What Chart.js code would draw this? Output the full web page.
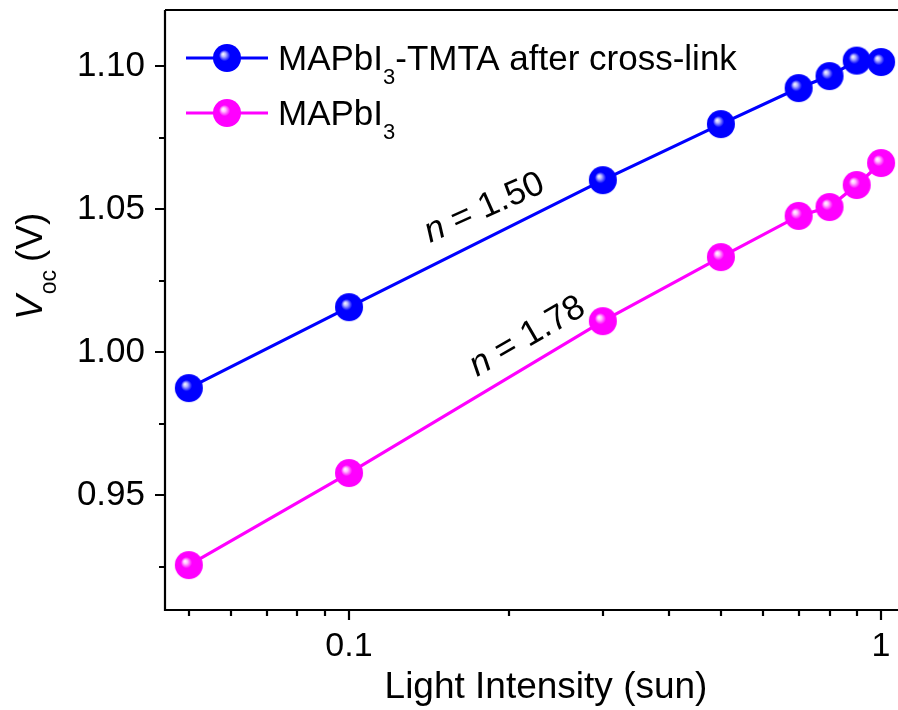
<!DOCTYPE html>
<html>
<head>
<meta charset="utf-8">
<script src="https://cdn.jsdelivr.net/npm/chart.js@4/dist/chart.umd.min.js"></script>
<style>
  html, body { margin: 0; padding: 0; background: #fff; }
  #wrap { width: 898px; height: 710px; }
</style>
</head>
<body>
<div id="wrap"><canvas id="chart" width="898" height="710"></canvas></div>
<script>
// light intensity (sun)
const intensities = [0.05, 0.1, 0.3, 0.5, 0.7, 0.8, 0.9, 1.0];
// Voc (V)
const vocTmta = [0.9874, 1.0157, 1.0601, 1.0797, 1.0923, 1.0965, 1.1019, 1.1014];
const vocRef = [0.9255, 0.9577, 1.0108, 1.0332, 1.0476, 1.0507, 1.0584, 1.0661];

const xTicks = [0.05, 0.06, 0.07, 0.08, 0.09, 0.1, 0.2, 0.3, 0.4, 0.5, 0.6, 0.7, 0.8, 0.9, 1];
const xLabels = [0.1, 1];
const yTicks = [0.925, 0.95, 0.975, 1.0, 1.025, 1.05, 1.075, 1.10];
const yLabels = [0.95, 1.0, 1.05, 1.10];

const FONT = "'Liberation Sans', Arial, sans-serif";
const BLUE = '#0000ff';
const PINK = '#ff00ff';

// shaded ball used as marker
function makeBall(color) {
    const c = document.createElement('canvas');
    c.width = 30; c.height = 30;
    const g = c.getContext('2d');
    const grad = g.createRadialGradient(11, 11, 0, 15, 15, 14);
    grad.addColorStop(0, '#ffffff');
    grad.addColorStop(0.15, color === BLUE ? '#b8b8ff' : '#ffc0ff');
    grad.addColorStop(0.4, color);
    grad.addColorStop(1, color);
    g.fillStyle = grad;
    g.beginPath();
    g.arc(15, 15, 14, 0, Math.PI * 2);
    g.fill();
    return c;
}
const blueBall = makeBall(BLUE);
const pinkBall = makeBall(PINK);

function isIn(v, arr) {
    return arr.some(a => Math.abs(a - v) < 1e-9);
}

// text with a subscript part
function drawSub(ctx, x, y, main, sub, rest, size, subSize, subDrop) {
    ctx.font = size + 'px ' + FONT;
    ctx.fillText(main, x, y);
    x += ctx.measureText(main).width;
    ctx.font = subSize + 'px ' + FONT;
    ctx.fillText(sub, x, y + subDrop);
    x += ctx.measureText(sub).width;
    if (rest) {
        ctx.font = size + 'px ' + FONT;
        ctx.fillText(rest, x, y);
    }
}

function noPad(s) {
    s.paddingTop = 0;
    s.paddingBottom = 0;
    s.paddingLeft = 0;
    s.paddingRight = 0;
}

const decorations = {
    id: 'decorations',
    afterDraw(chart) {
        const ctx = chart.ctx;
        const area = chart.chartArea;
        const xs = chart.scales.x;
        const ys = chart.scales.y;
        ctx.save();
        ctx.strokeStyle = '#000';
        ctx.fillStyle = '#000';
        ctx.lineWidth = 2.2;

        // frame: left, bottom, top
        ctx.beginPath();
        ctx.moveTo(area.left, area.top);
        ctx.lineTo(area.left, area.bottom);
        ctx.lineTo(area.right, area.bottom);
        ctx.moveTo(area.left, area.top);
        ctx.lineTo(area.right, area.top);
        ctx.stroke();

        // tick marks
        ctx.beginPath();
        xTicks.forEach(v => {
            const px = Math.round(xs.getPixelForValue(v));
            const len = isIn(v, xLabels) ? 10 : 6;
            ctx.moveTo(px, area.bottom);
            ctx.lineTo(px, area.bottom + len);
        });
        yTicks.forEach(v => {
            const py = Math.round(ys.getPixelForValue(v));
            const len = isIn(v, yLabels) ? 10 : 6;
            ctx.moveTo(area.left, py);
            ctx.lineTo(area.left - len, py);
        });
        ctx.stroke();

        // axis titles
        ctx.textAlign = 'center';
        ctx.textBaseline = 'alphabetic';
        ctx.font = '37px ' + FONT;
        ctx.fillText('Light Intensity (sun)', 546, 698);

        ctx.save();
        ctx.translate(42, 320);
        ctx.rotate(-Math.PI / 2);
        ctx.textAlign = 'left';
        ctx.font = 'italic 37px ' + FONT;
        ctx.fillText('V', 0, 0);
        let off = ctx.measureText('V').width + 1;
        ctx.font = '23px ' + FONT;
        ctx.fillText('oc', off, 14);
        off += ctx.measureText('oc').width + 8;
        ctx.font = '37px ' + FONT;
        ctx.fillText('(V)', off, 0);
        ctx.restore();

        // legend
        const legend = [
            { ball: blueBall, color: BLUE, y: 58, main: 'MAPbI', sub: '3', rest: '-TMTA after cross-link' },
            { ball: pinkBall, color: PINK, y: 113, main: 'MAPbI', sub: '3', rest: '' }
        ];
        ctx.textAlign = 'left';
        legend.forEach(item => {
            ctx.strokeStyle = item.color;
            ctx.lineWidth = 3.2;
            ctx.beginPath();
            ctx.moveTo(186, item.y);
            ctx.lineTo(268, item.y);
            ctx.stroke();
            ctx.drawImage(item.ball, 227 - 15, item.y - 15);
            ctx.fillStyle = '#000';
            drawSub(ctx, 278, item.y + 12, item.main, item.sub, item.rest, 35, 22, 14);
        });

        // slope annotations
        const notes = [
            { x: 430, y: 243, angle: -24, text: ' = 1.50' },
            { x: 477, y: 377, angle: -30, text: ' = 1.78' }
        ];
        notes.forEach(n => {
            ctx.save();
            ctx.translate(n.x, n.y);
            ctx.rotate(n.angle * Math.PI / 180);
            ctx.font = 'italic 35px ' + FONT;
            ctx.fillText('n', 0, 0);
            const w = ctx.measureText('n').width;
            ctx.font = '35px ' + FONT;
            ctx.fillText(n.text, w, 0);
            ctx.restore();
        });
        ctx.restore();
    }
};

const ctx = document.getElementById('chart').getContext('2d');
new Chart(ctx, {
    type: 'line',
    data: {
        datasets: [
            {
                label: 'MAPbI3-TMTA after cross-link',
                data: intensities.map((x, i) => ({ x: x, y: vocTmta[i] })),
                borderColor: BLUE,
                borderWidth: 3.2,
                pointStyle: blueBall,
                pointRadius: 14,
                tension: 0
            },
            {
                label: 'MAPbI3',
                data: intensities.map((x, i) => ({ x: x, y: vocRef[i] })),
                borderColor: PINK,
                borderWidth: 3.2,
                pointStyle: pinkBall,
                pointRadius: 14,
                tension: 0
            }
        ]
    },
    options: {
        responsive: false,
        animation: false,
        clip: false,
        layout: { autoPadding: false, padding: { left: 0, right: 0, top: 10, bottom: 0 } },
        plugins: {
            legend: { display: false },
            tooltip: { enabled: false }
        },
        scales: {
            x: {
                type: 'logarithmic',
                min: 0.0451,
                max: 1.076,
                border: { display: false },
                grid: { display: false, drawTicks: false },
                afterBuildTicks: s => { s.ticks = xTicks.map(v => ({ value: v })); },
                afterFit: s => { s.height = 100; noPad(s); },
                ticks: {
                    autoSkip: false,
                    maxRotation: 0,
                    padding: 16,
                    color: '#000',
                    font: { family: FONT, size: 34 },
                    callback: v => isIn(v, xLabels) ? String(v) : ''
                }
            },
            y: {
                type: 'linear',
                min: 0.9098,
                max: 1.1196,
                border: { display: false },
                grid: { display: false, drawTicks: false },
                afterBuildTicks: s => { s.ticks = yTicks.map(v => ({ value: v })); },
                afterFit: s => { s.width = 165; noPad(s); },
                ticks: {
                    autoSkip: false,
                    padding: 20,
                    color: '#000',
                    font: { family: FONT, size: 35 },
                    callback: v => isIn(v, yLabels) ? v.toFixed(2) : ''
                }
            }
        }
    },
    plugins: [decorations]
});
</script>
</body>
</html>
